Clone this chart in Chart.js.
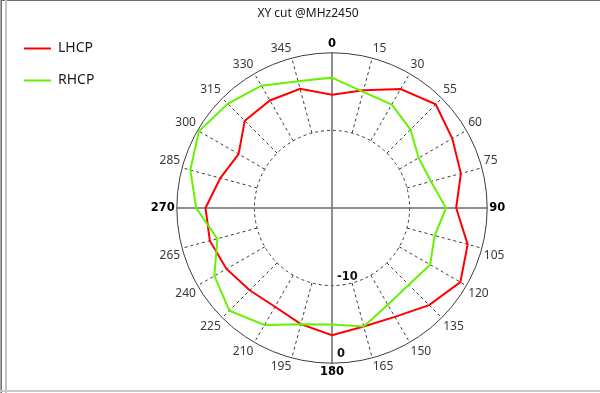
<!DOCTYPE html>
<html>
<head>
<meta charset="utf-8">
<script src="https://cdn.jsdelivr.net/npm/chart.js@4.4.1/dist/chart.umd.min.js"></script>
<style>
html,body{margin:0;padding:0;background:#fff;}
#wrap{position:relative;width:600px;height:393px;overflow:hidden;background:#fff;}
#c{position:absolute;left:0;top:0;}
.ln{position:absolute;}
</style>
</head>
<body>
<div id="wrap">
<canvas id="c" width="600" height="393"></canvas>
<div class="ln" style="left:0;top:0;width:600px;height:1px;background:#6e6e6e"></div>
<div class="ln" style="left:0;top:0;width:1px;height:393px;background:#a8a8a8"></div>
<div class="ln" style="left:1px;top:0;width:1px;height:393px;background:#707070"></div>
<div class="ln" style="left:5px;top:0;width:2px;height:393px;background:#c4c4c4"></div>
<div class="ln" style="left:0;top:390px;width:600px;height:2px;background:#c8c8c8"></div>
</div>
<script>
// ---- data ----
const angleLabels = ['0','15','30','55','60','75','90','105','120','135','150','165',
                     '180','195','210','225','240','265','270','285','300','315','330','345'];
const lhcp = [-5.4,-4.3,-2.3,-1.1,-2.1,-2.8,-4.0,-1.9,-0.9,-2.3,-3.8,-4.2,
              -3.6,-4.5,-5.3,-5.0,-4.3,-3.7,-3.7,-5.1,-6.1,-4.1,-4.0,-4.1];
const rhcp = [-3.2,-4.5,-4.6,-5.7,-7.1,-6.8,-5.3,-6.3,-5.4,-6.0,-5.6,-4.2,
              -5.0,-4.5,-2.6,-1.3,-2.5,-4.7,-2.5,-1.1,-0.2,-1.0,-1.8,-3.1];
const radialTicks = [-10, 0];
const rMin = -20, rMax = 0;
const seriesNames = ['LHCP', 'RHCP'];
const seriesColors = ['#ff0000', '#66f200'];

const cardinalFont = {family: '"DejaVu Sans", sans-serif', size: 11.5, weight: 'bold'};
const normalFont = {family: '"Noto Sans", "Open Sans", sans-serif', size: 12, weight: 'normal'};

const gridPlugin = {
  id: 'polarGrid',
  beforeDatasetsDraw(chart) {
    const s = chart.scales.r;
    const ctx = chart.ctx;
    const n = chart.data.labels.length;
    const q = n / 4;
    ctx.save();
    // inner dashed ring
    ctx.strokeStyle = '#3a3a3a';
    ctx.lineWidth = 1;
    ctx.setLineDash([3, 3]);
    ctx.beginPath();
    ctx.arc(s.xCenter, s.yCenter, s.getDistanceFromCenterForValue(radialTicks[0]), 0, Math.PI * 2);
    ctx.stroke();
    // dashed spokes between inner ring and outer ring
    for (let i = 0; i < n; i++) {
      if (i % q === 0) continue;
      const a = s.getPointPositionForValue(i, radialTicks[0]);
      const b = s.getPointPositionForValue(i, radialTicks[1]);
      ctx.beginPath();
      ctx.moveTo(a.x, a.y);
      ctx.lineTo(b.x, b.y);
      ctx.stroke();
    }
    ctx.setLineDash([]);
    // main axes
    ctx.strokeStyle = '#6a6a6a';
    ctx.lineWidth = 1.5;
    for (let i = 0; i < n / 2; i += q) {
      const a = s.getPointPositionForValue(i, rMax);
      const b = s.getPointPositionForValue(i + n / 2, rMax);
      ctx.beginPath();
      ctx.moveTo(a.x, a.y);
      ctx.lineTo(b.x, b.y);
      ctx.stroke();
    }
    // outer ring
    ctx.strokeStyle = '#3c3c3c';
    ctx.lineWidth = 1;
    ctx.beginPath();
    ctx.arc(s.xCenter, s.yCenter, s.getDistanceFromCenterForValue(rMax), 0, Math.PI * 2);
    ctx.stroke();
    // radial tick labels (along the 180 direction)
    ctx.fillStyle = '#111';
    ctx.font = 'bold 11.5px "DejaVu Sans", sans-serif';
    ctx.textAlign = 'left';
    ctx.textBaseline = 'alphabetic';
    radialTicks.forEach(v => {
      const p = s.getPointPositionForValue(n / 2, v);
      ctx.fillText(String(v), p.x + 5, p.y - 6);
    });
    ctx.restore();
  }
};

new Chart(document.getElementById('c'), {
  type: 'radar',
  data: {
    labels: angleLabels,
    datasets: [
      {label: seriesNames[0], data: lhcp, borderColor: seriesColors[0], backgroundColor: seriesColors[0],
       borderWidth: 2, fill: false, pointRadius: 0, tension: 0, order: 1},
      {label: seriesNames[1], data: rhcp, borderColor: seriesColors[1], backgroundColor: seriesColors[1],
       borderWidth: 2, fill: false, pointRadius: 0, tension: 0, order: 0}
    ]
  },
  options: {
    responsive: false,
    animation: false,
    devicePixelRatio: 1,
    layout: {padding: {left: 6, right: -10, top: 0, bottom: 0}},
    plugins: {
      title: {
        display: true, text: 'XY cut @MHz2450', color: '#1a1a1a',
        font: {family: '"Noto Sans", "Open Sans", sans-serif', size: 12, weight: 'normal'},
        padding: {top: 6, bottom: 3}
      },
      legend: {
        position: 'left', align: 'start', fullSize: false,
        labels: {
          usePointStyle: true, pointStyle: 'line', pointStyleWidth: 27, padding: 18,
          color: '#1a1a1a',
          font: {family: '"Noto Sans", "Open Sans", sans-serif', size: 14},
          sort: (a, b) => a.datasetIndex - b.datasetIndex
        }
      },
      tooltip: {enabled: false}
    },
    scales: {
      r: {
        min: rMin, max: rMax,
        ticks: {display: false, stepSize: 10},
        grid: {display: false},
        angleLines: {display: false},
        pointLabels: {
          display: true,
          padding: 2,
          color: c => (c.index % 6 === 0 ? '#000' : '#3a3a3a'),
          font: c => (c.index % 6 === 0 ? cardinalFont : normalFont)
        },
        afterSetDimensions: s => {
          const cx = 332, cy = 209, halfH = 171, halfW = 200;
          s.left = cx - halfW; s.right = cx + halfW;
          s.top = cy - halfH; s.bottom = cy + halfH;
          s.width = 2 * halfW; s.height = 2 * halfH;
          s.xCenter = cx; s.yCenter = cy; s.drawingArea = halfH;
        }
      }
    }
  },
  plugins: [gridPlugin]
});
</script>
</body>
</html>
